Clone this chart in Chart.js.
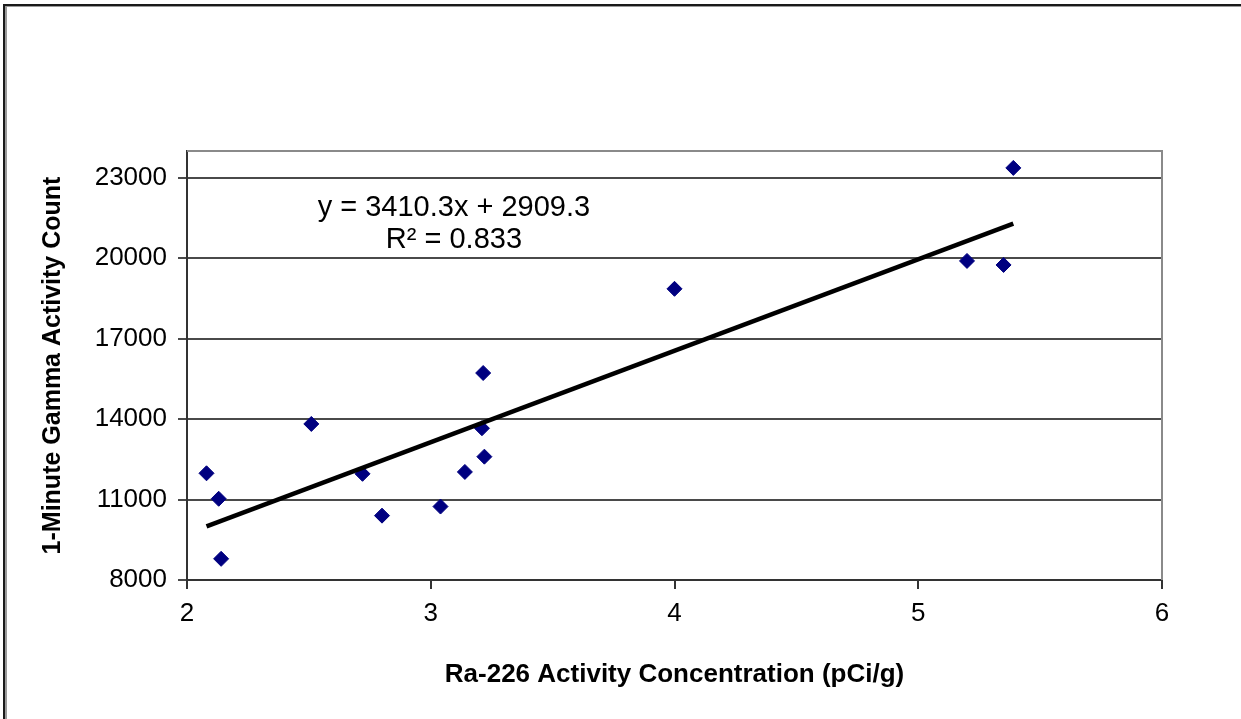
<!DOCTYPE html>
<html>
<head>
<meta charset="utf-8">
<script src="https://cdn.jsdelivr.net/npm/chart.js@4.4.1/dist/chart.umd.min.js"></script>
<style>
  html, body { margin: 0; padding: 0; background: #fff; }
  #wrap { position: relative; width: 1241px; height: 719px; }
</style>
</head>
<body>
<div id="wrap"><canvas id="c" width="1241" height="719"></canvas></div>
<script>
// ---- data ----
const raConc = [2.08, 2.13, 2.14, 2.51, 2.72, 2.80, 3.04, 3.14, 3.21, 3.22, 3.215, 4.00, 5.20, 5.35, 5.39];
const gammaCount = [11980, 11030, 8790, 13820, 11960, 10400, 10740, 12030, 13660, 12600, 15720, 18860, 19900, 19750, 23370];
const trendSlope = 3410.3;
const trendIntercept = 2909.3;
const trendLabel = ["y = 3410.3x + 2909.3", "R\u00B2 = 0.833"];
const xTicks = [2, 3, 4, 5, 6];
const yTicks = [8000, 11000, 14000, 17000, 20000, 23000];
const xTitle = "Ra-226 Activity Concentration (pCi/g)";
const yTitle = "1-Minute Gamma Activity Count";

const points = raConc.map((x, i) => ({ x: x, y: gammaCount[i] }));
const xMin = Math.min(...raConc), xMax = Math.max(...raConc);
const trend = [xMin, xMax].map(x => ({ x: x, y: trendSlope * x + trendIntercept }));

Chart.defaults.font.family = "'Liberation Sans', Arial, sans-serif";
Chart.defaults.color = '#000';

const framePlugin = {
  id: 'frame',
  beforeDraw(chart) {
    const ctx = chart.ctx;
    ctx.save();
    ctx.fillStyle = '#fff';
    ctx.fillRect(0, 0, chart.width, chart.height);
    // outer picture frame (left & top)
    ctx.fillStyle = '#9a9a9a';
    ctx.fillRect(5, 6, 2, chart.height - 6);
    ctx.fillRect(5, 6, chart.width - 5, 1);
    ctx.fillStyle = '#1a1a1a';
    ctx.fillRect(3, 4, 2, chart.height - 4);
    ctx.fillRect(3, 4, chart.width - 3, 2);
    ctx.restore();
  },
  beforeDatasetsDraw(chart) {
    const { ctx, chartArea: a } = chart;
    ctx.save();
    ctx.strokeStyle = '#8a8a8a';
    ctx.lineWidth = 2;
    ctx.beginPath();
    ctx.moveTo(a.left, a.top);
    ctx.lineTo(a.right, a.top);
    ctx.lineTo(a.right, a.bottom);
    ctx.stroke();
    ctx.restore();
  },
  afterDatasetsDraw(chart) {
    const { ctx, scales } = chart;
    const cx = scales.x.getPixelForValue(3.095);
    const y1 = scales.y.getPixelForValue(21563);
    const y2 = scales.y.getPixelForValue(20369);
    ctx.save();
    ctx.fillStyle = '#000';
    ctx.font = "29px 'Liberation Sans', Arial, sans-serif";
    ctx.textAlign = 'center';
    ctx.textBaseline = 'alphabetic';
    ctx.fillText(trendLabel[0], cx, y1);
    ctx.fillText(trendLabel[1], cx, y2);
    ctx.restore();
  }
};

new Chart(document.getElementById('c'), {
  type: 'scatter',
  data: {
    datasets: [
      {
        label: 'Trend',
        data: trend,
        showLine: true,
        borderColor: '#000',
        borderWidth: 4.5,
        pointRadius: 0,
        pointHoverRadius: 0,
        order: 0
      },
      {
        label: 'Samples',
        data: points,
        pointStyle: 'rectRot',
        pointRadius: 7.5,
        pointHoverRadius: 7.5,
        backgroundColor: '#000080',
        borderColor: '#000080',
        borderWidth: 1,
        order: 1
      }
    ]
  },
  options: {
    responsive: false,
    animation: false,
    devicePixelRatio: 1,
    layout: { padding: { top: 151, right: 79, left: 0, bottom: 0 } },
    plugins: { legend: { display: false }, tooltip: { enabled: false } },
    scales: {
      x: {
        type: 'linear',
        min: 2, max: 6,
        afterBuildTicks: s => { s.ticks = xTicks.map(v => ({ value: v })); },
        afterFit: s => { s.height = 139; },
        ticks: { font: { size: 26 }, padding: 9, color: '#000', callback: v => String(v) },
        grid: { drawOnChartArea: false, drawTicks: true, tickLength: 9, color: '#333', lineWidth: 2 },
        border: { display: true, color: '#333', width: 2 },
        title: { display: true, text: xTitle, font: { size: 26, weight: 'bold' }, padding: { top: 0, bottom: 29 }, color: '#000' }
      },
      y: {
        type: 'linear',
        min: 8000, max: 24000,
        afterBuildTicks: s => { s.ticks = yTicks.map(v => ({ value: v })); },
        afterFit: s => { s.width = 187; },
        ticks: { font: { size: 26 }, padding: 11, color: '#000', callback: v => String(v) },
        grid: { drawTicks: true, tickLength: 9, color: '#4a4a4a', lineWidth: 2 },
        border: { display: true, color: '#333', width: 2 },
        title: { display: true, text: yTitle, font: { size: 25, weight: 'bold' }, padding: { top: 38, bottom: 0 }, color: '#000' }
      }
    }
  },
  plugins: [framePlugin]
});
</script>
</body>
</html>
